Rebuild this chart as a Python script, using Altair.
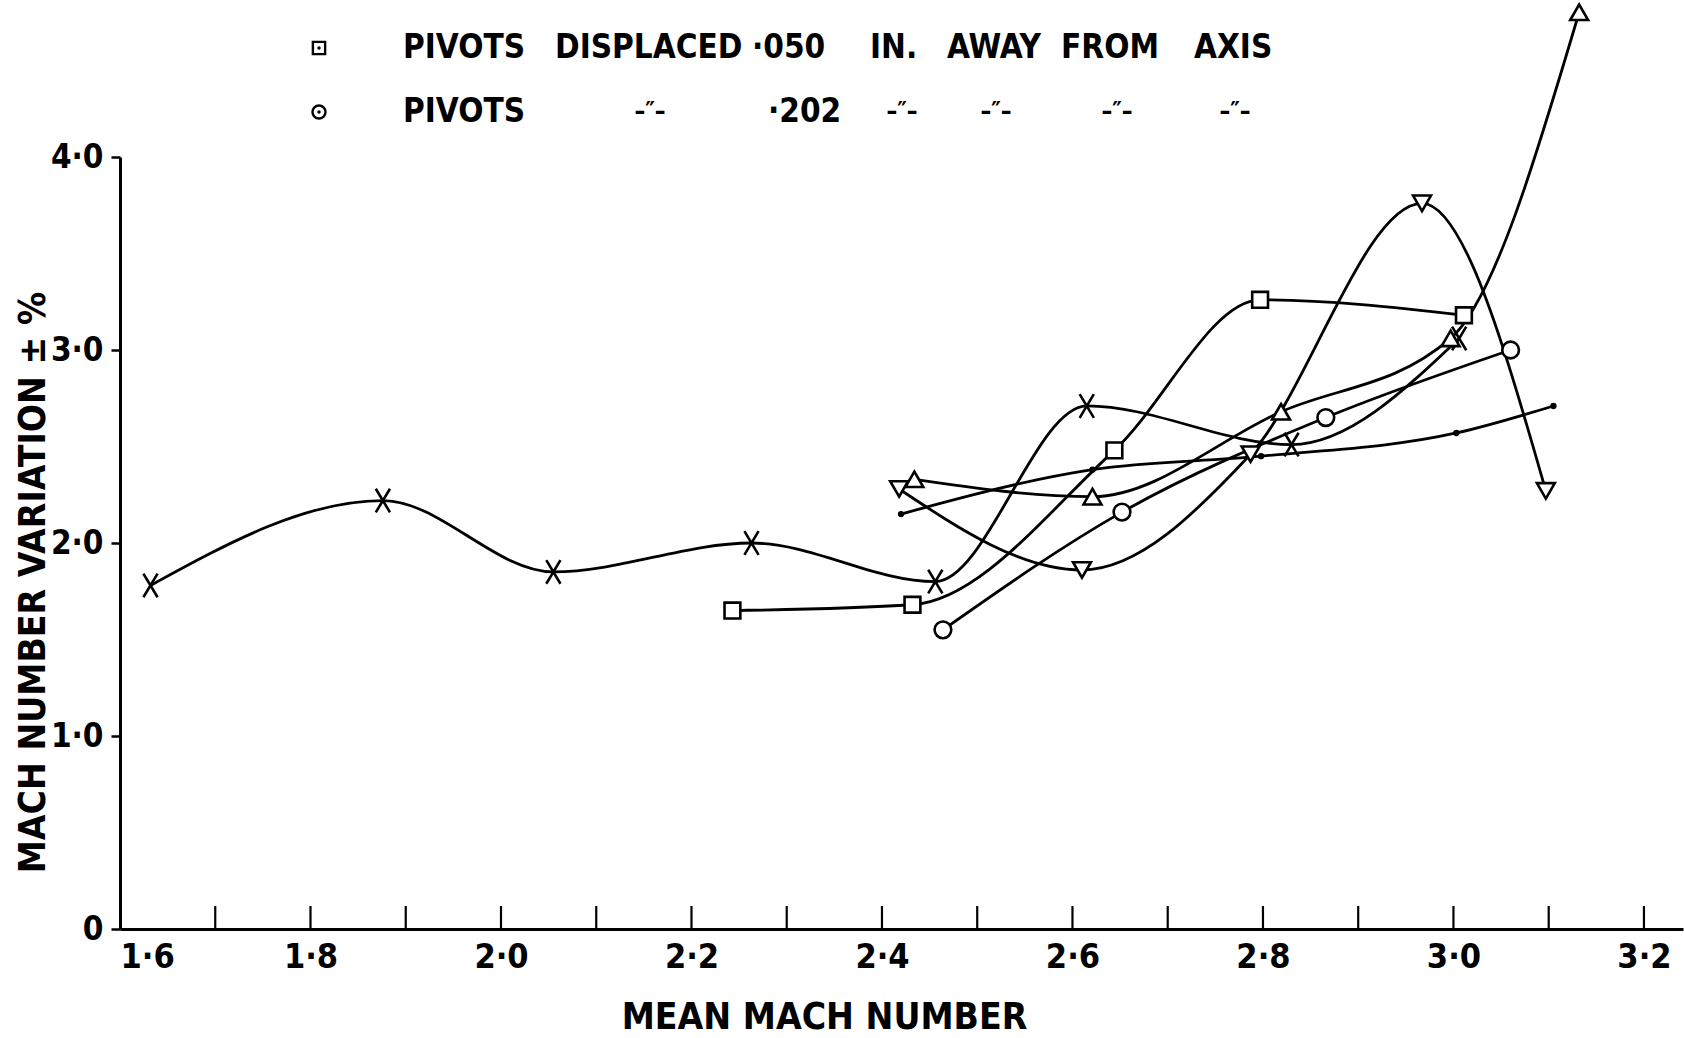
import altair as alt
import pandas as pd

# ---- data ----
cross_M = [1.632, 1.876, 2.055, 2.263, 2.456, 2.615, 2.830, 3.006]
cross_V = [1.78, 2.22, 1.85, 2.00, 1.80, 2.71, 2.51, 3.06]
square_M = [2.243, 2.432, 2.644, 2.797, 3.011]
square_V = [1.65, 1.68, 2.48, 3.26, 3.18]
circle_M = [2.464, 2.652, 2.866, 3.060]
circle_V = [1.55, 2.16, 2.65, 3.00]
triup_M = [2.434, 2.621, 2.819, 2.997, 3.132]
triup_V = [2.33, 2.24, 2.68, 3.06, 4.75]
tridown_M = [2.418, 2.610, 2.787, 2.967, 3.097]
tridown_V = [2.28, 1.86, 2.46, 3.76, 2.27]
dot_M = [2.420, 2.621, 2.798, 3.003, 3.105]
dot_V = [2.15, 2.38, 2.45, 2.57, 2.71]

x_label_values = [1.6, 1.8, 2.0, 2.2, 2.4, 2.6, 2.8, 3.0, 3.2]
x_minor_ticks = [1.7, 1.8, 1.9, 2.0, 2.1, 2.2, 2.3, 2.4, 2.5, 2.6, 2.7, 2.8, 2.9, 3.0, 3.1, 3.2]
y_values = [0, 1, 2, 3, 4]

legend_row1_words = ["PIVOTS", "DISPLACED", "·050", "IN.", "AWAY", "FROM", "AXIS"]
legend_row2_word = "PIVOTS"
legend_row2_value = "·202"
ditto = "–\u2033–"

series = {
    "cross": (cross_M, cross_V),
    "square": (square_M, square_V),
    "circle": (circle_M, circle_V),
    "triup": (triup_M, triup_V),
    "tridown": (tridown_M, tridown_V),
    "dot": (dot_M, dot_V),
}
rows = []
for name, (ms, vs) in series.items():
    for m, v in zip(ms, vs):
        rows.append({"series": name, "M": m, "V": v})
df = pd.DataFrame(rows)

FONT = "DejaVu Sans Condensed, DejaVu Sans, sans-serif"
W, H = 1563, 772

x_scale = alt.Scale(domain=[1.6, 3.241], nice=False, zero=False)
y_scale = alt.Scale(domain=[0, 4], nice=False)

x_axis = alt.Axis(
    values=x_label_values,
    labelExpr="replace(format(datum.value, '.1f'), '.', '·')",
    ticks=False, grid=False,
    domainColor="black", domainWidth=3,
    labelFont=FONT, labelFontSize=34, labelFontWeight="bold", labelColor="black",
    labelPadding=11, labelFlush=True,
    title="MEAN MACH NUMBER", titleFont=FONT, titleFontSize=37, titleFontWeight="bold",
    titleColor="black", titleX=704, titleY=88, titleAlign="center", titleBaseline="middle",
)
y_axis = alt.Axis(
    values=y_values,
    labelExpr="datum.value == 0 ? '0' : replace(format(datum.value, '.1f'), '.', '·')",
    tickSize=9, tickWidth=2.5, tickColor="black", grid=False,
    domainColor="black", domainWidth=3,
    labelFont=FONT, labelFontSize=33, labelFontWeight="bold", labelColor="black",
    labelPadding=8, labelFlush=False,
    title="MACH NUMBER VARIATION ± %", titleFont=FONT, titleFontSize=37, titleFontWeight="bold",
    titleColor="black", titleX=-87, titleY=425, titleAngle=270, titleAlign="center",
    titleBaseline="middle",
)

X = alt.X("M:Q", scale=x_scale, axis=x_axis)
Y = alt.Y("V:Q", scale=y_scale, axis=y_axis)

lines = alt.Chart(df).mark_line(interpolate="monotone", color="black", strokeWidth=2.8).encode(
    x=X, y=Y, detail="series:N", order="M:Q",
)

X_PATH = "M-0.6,-1L0.6,1M-0.6,1L0.6,-1"


def pts(name, shape, size, filled_black=False):
    if filled_black:
        mark = alt.Chart(df).mark_point(shape=shape, size=size, filled=True, color="black", opacity=1)
    else:
        mark = alt.Chart(df).mark_point(shape=shape, size=size, filled=True, fill="white",
                                        fillOpacity=1, stroke="black", strokeWidth=2.6, opacity=1)
    return mark.encode(x=X, y=Y).transform_filter(alt.datum.series == name)


p_cross = pts("cross", X_PATH, 560)
p_square = pts("square", "square", 250)
p_circle = pts("circle", "circle", 280)
p_triup = pts("triup", "triangle-up", 320)
p_tridown = pts("tridown", "triangle-down", 320)
p_dot = pts("dot", "circle", 40, filled_black=True)

ticks = alt.Chart(pd.DataFrame({"M": x_minor_ticks})).mark_rule(color="black", strokeWidth=2.2).encode(
    x=X,
    y=alt.value(H),
    y2=alt.value(H - 23),
)

# ---- legend (text annotations above the plot) ----
leg_df = pd.DataFrame({"k": [0]})


def txt(text, x, y, size, weight="bold", align="left"):
    return alt.Chart(leg_df).mark_text(
        text=text, font=FONT, fontSize=size, fontWeight=weight, align=align,
        baseline="middle", color="black",
    ).encode(x=alt.value(x), y=alt.value(y))


def sym(shape, x, y, size):
    return alt.Chart(leg_df).mark_point(
        shape=shape, size=size, filled=False, stroke="black", strokeWidth=2.4, opacity=1,
    ).encode(x=alt.value(x), y=alt.value(y))


def dotsym(x, y):
    return alt.Chart(leg_df).mark_point(
        shape="circle", size=12, filled=True, color="black", opacity=1,
    ).encode(x=alt.value(x), y=alt.value(y))


r1 = 48 - 157
r2 = 112 - 157
row1_x = [283, 435, 632, 750, 827, 941, 1074]
legend = [sym("square", 199, r1, 150), dotsym(199, r1),
          sym("circle", 199, r2, 170), dotsym(199, r2)]
for w, xx in zip(legend_row1_words, row1_x):
    legend.append(txt(w, xx, r1, 33))
legend += [
    txt(legend_row2_word, 283, r2, 33),
    txt(ditto, 530, r2, 24, align="center"),
    txt(legend_row2_value, 648, r2, 33),
    txt(ditto, 782, r2, 24, align="center"),
    txt(ditto, 876, r2, 24, align="center"),
    txt(ditto, 997, r2, 24, align="center"),
    txt(ditto, 1115, r2, 24, align="center"),
]

chart = alt.layer(
    lines, ticks, p_cross, p_square, p_circle, p_triup, p_tridown, p_dot, *legend
).properties(
    width=W, height=H,
    autosize=alt.AutoSizeParams(type="none"),
    padding={"left": 120, "top": 157, "right": 1, "bottom": 109},
).configure(background="white", view=alt.ViewConfig(stroke=None))

chart.save("out.html", embed_options={"renderer": "svg", "actions": False})
